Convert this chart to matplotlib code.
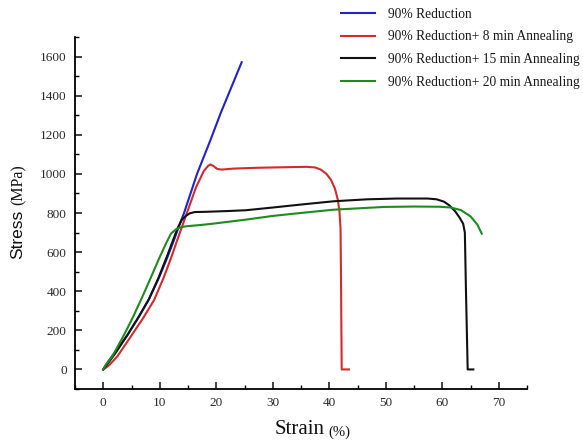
import matplotlib
matplotlib.use("Agg")
import matplotlib.pyplot as plt
from matplotlib.ticker import MultipleLocator

# Tensile curves: strain (%) and engineering stress (MPa)
strain_red90 = [0, 0.5, 2, 4.2, 6.2, 8.0, 9.8, 11.3, 12.5, 13.4, 14.3, 16.6, 19.0, 20.8, 22.5, 24.5]
stress_red90 = [0, 25, 85, 172, 265, 355, 465, 570, 660, 732, 800, 1000, 1175, 1312, 1431, 1571]

strain_8min = [0, 1, 2.5, 4.8, 7, 9.0, 10.7, 12.0, 13.2, 14.8, 16.4, 17.8, 18.6, 19.0, 19.5,
               20.2, 21.0, 23, 27, 32, 36, 37.5, 38.5, 39.5, 40.3, 41.0, 41.5, 41.8,
               42.0, 42.1, 42.2, 43.5]
stress_8min = [0, 20, 67, 165, 260, 355, 470, 570, 670, 800, 930, 1015, 1042, 1048, 1040,
               1025, 1022, 1027, 1031, 1034, 1036, 1033, 1022, 1000, 970, 925, 870, 810,
               720, 400, 0, 0]

strain_15min = [0, 0.8, 2.2, 4.25, 6.3, 8.1, 9.8, 11.3, 12.4, 13.2, 13.9, 14.6, 15.3, 16.2,
                18, 22, 25.2, 30, 34.9, 40.8, 46.7, 52, 57.4, 59.0, 60.3, 61.3, 62.3, 63.1,
                63.7, 64.0, 64.2, 64.5, 65.5]
stress_15min = [0, 30, 85, 175, 270, 360, 470, 580, 665, 725, 765, 785, 798, 805,
                806, 810, 814, 828, 843, 860, 870, 874, 874, 870, 858, 838, 808, 775,
                745, 700, 400, 0, 0]

strain_20min = [0, 0.5, 1.6, 3.65, 5.3, 6.9, 8.5, 10.0, 11.2, 12.0, 12.8, 13.5, 14.6, 17, 19.3,
                25.2, 30, 34.9, 40.8, 49.7, 55, 59.5, 61.5, 63.3, 65.0, 66.2, 67.0]
stress_20min = [0, 25, 67, 175, 270, 370, 475, 575, 650, 695, 715, 725, 732, 738, 745,
                766, 785, 800, 817, 831, 833, 832, 828, 815, 783, 741, 694]

labels = ["90% Reduction",
          "90% Reduction+ 8 min Annealing",
          "90% Reduction+ 15 min Annealing",
          "90% Reduction+ 20 min Annealing"]
colors = ["#2222cc", "#d42a2a", "#111111", "#1f8a1f"]

serif = "Liberation Serif"
sans = "Liberation Sans"

fig = plt.figure(figsize=(5.83, 4.42), dpi=100)
ax = fig.add_axes([75 / 583, 1 - 389 / 442, (527 - 75) / 583, (389 - 37) / 442])

series = [(strain_red90, stress_red90), (strain_8min, stress_8min),
          (strain_15min, stress_15min), (strain_20min, stress_20min)]
for (x, y), c, lab in zip(series, colors, labels):
    ax.plot(x, y, color=c, lw=1.5, label=lab, solid_joinstyle="round")

ax.set_xlim(-5, 75)
ax.set_ylim(-100, 1700)
ax.xaxis.set_major_locator(MultipleLocator(10))
ax.xaxis.set_minor_locator(MultipleLocator(5))
ax.yaxis.set_major_locator(MultipleLocator(200))
ax.yaxis.set_minor_locator(MultipleLocator(100))
ax.set_xticks(range(0, 71, 10))
ax.set_yticks(range(0, 1601, 200))

for side in ("top", "right"):
    ax.spines[side].set_visible(False)
for side in ("left", "bottom"):
    ax.spines[side].set_linewidth(1.3)

ax.tick_params(which="major", direction="in", length=5, width=1.2, pad=6,
               labelsize=9.5, colors="#222222")
ax.tick_params(which="minor", direction="in", length=3, width=1.0)
for t in ax.get_xticklabels() + ax.get_yticklabels():
    t.set_fontfamily(serif)
    t.set_color("#2a2a2a")

# Axis titles with smaller unit text
fig.text(18 / 583, 1 - 234 / 442, "Stress", rotation=90, ha="center", va="center",
         fontsize=12.5, family=sans, color="#111111")
fig.text(19 / 583, 1 - 185 / 442, "(MPa)", rotation=90, ha="center", va="center",
         fontsize=11.5, family=serif, color="#111111")
fig.text(300 / 583, 1 - 430 / 442, "Strain", ha="center", va="center",
         fontsize=15, family=serif, color="#111111")
fig.text(339 / 583, 1 - 432 / 442, "(%)", ha="center", va="center",
         fontsize=10.5, family=serif, color="#111111")

leg = fig.legend(loc="upper left", bbox_to_anchor=(341 / 583, 1 - 7.5 / 442),
                 frameon=False, prop={"family": serif, "size": 9.75},
                 handlelength=2.5, handletextpad=1.0, labelspacing=0.72,
                 borderpad=0, borderaxespad=0)
for txt in leg.get_texts():
    txt.set_color("#1a1a1a")

fig.savefig("out.png", dpi=100)
